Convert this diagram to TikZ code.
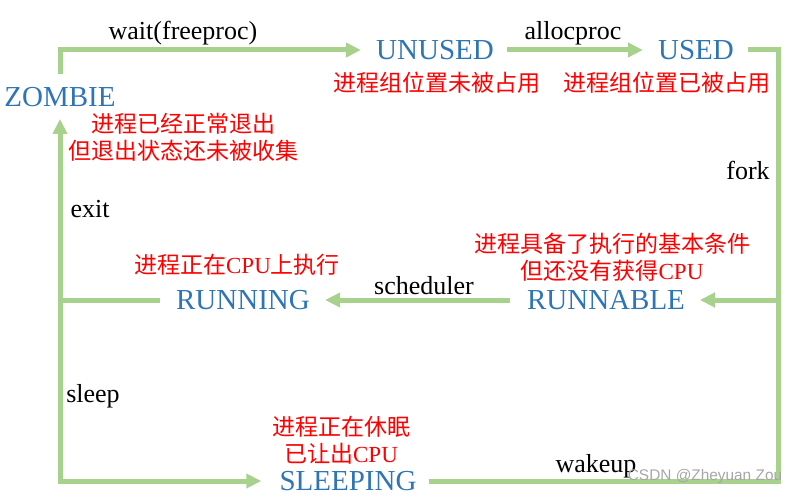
\documentclass[tikz,border=0pt]{standalone}
\usepackage{fontspec}
\setmainfont{Liberation Serif}
\newfontfamily\cjk{Noto Sans CJK SC}
\newfontfamily\wmfont{Liberation Sans}
\usetikzlibrary{arrows.meta}
\definecolor{flowgreen}{HTML}{A9D18E}
\definecolor{stateblue}{HTML}{2E75B6}
\definecolor{notered}{HTML}{FF0000}
\begin{document}
\begin{tikzpicture}[x=1pt,y=-1pt,
  state/.style={inner sep=0pt,text=stateblue,font=\fontsize{29}{32}\selectfont},
  lbl/.style={inner sep=0pt,text=black,font=\fontsize{26}{28}\selectfont},
  note/.style={inner sep=0pt,text=notered,align=center,font=\fontsize{23}{27}\selectfont},
  flow/.style={draw=flowgreen,line width=5pt,-{Triangle[length=15pt,width=14pt]}},
  flowline/.style={draw=flowgreen,line width=5pt}]
\useasboundingbox (0,0) rectangle (797,497);
% states
\node[state] (zombie) at (60,97) {ZOMBIE};
\node[state] (unused) at (435,50) {UNUSED};
\node[state] (used) at (696,50) {USED};
\node[state] (running) at (243,300) {RUNNING};
\node[state] (runnable) at (606,300) {RUNNABLE};
\node[state] (sleeping) at (348,481) {SLEEPING};
% notes
\node[note] (nunused) at (437,83) {\cjk 进程组位置未被占用};
\node[note] (nused) at (667,83) {\cjk 进程组位置已被占用};
\node[note] (nzombie) at (183,137) {{\cjk 进程已经正常退出}\\{\cjk 但退出状态还未被收集}};
\node[note] (nrunning) at (237,265) {{\cjk 进程正在}CPU{\cjk 上执行}};
\node[note] (nrunnable) at (612,257) {{\cjk 进程具备了执行的基本条件}\\{\cjk 但还没有获得}CPU};
\node[note] (nsleeping) at (341,440) {{\cjk 进程正在休眠}\\{\cjk 已让出}CPU};
% labels
\node[lbl] (lwait) at (183,33) {wait(freeproc)};
\node[lbl] (lalloc) at (573,33) {allocproc};
\node[lbl] (lfork) at (748,170) {fork};
\node[lbl] (lexit) at (90,209) {exit};
\node[lbl] (lsched) at (424,286) {scheduler};
\node[lbl] (lsleep) at (93,396) {sleep};
\node[lbl] (lwake) at (596,466) {wakeup};
% corners
\coordinate (cright) at (778,50);
\coordinate (cleft) at (60,300);
% connectors
\draw[flow] ([yshift=13pt]zombie.north) |- ([xshift=-15pt]unused.west);
\draw[flow] ([xshift=13pt]unused.east) -- ([xshift=-15pt]used.west);
\draw[flow] ([xshift=14pt]used.east) -- (cright) |- ([xshift=15pt]runnable.east);
\draw[flow] ([xshift=-17pt]runnable.west) -- ([xshift=15pt]running.east);
\draw[flow] ([xshift=-16pt]running.west) -| ([yshift=-12pt]zombie.south);
\draw[flow] (cleft) |- ([xshift=-18pt]sleeping.west);
\draw[flow] ([xshift=12pt]sleeping.east) -| (cright |- runnable) -- ([xshift=15pt]runnable.east);
% watermark
\node[inner sep=0pt,text=black!35,font=\wmfont\fontsize{15.4}{17}\selectfont] (wm) at (705,477) {CSDN @Zheyuan Zou};
\end{tikzpicture}
\end{document}
